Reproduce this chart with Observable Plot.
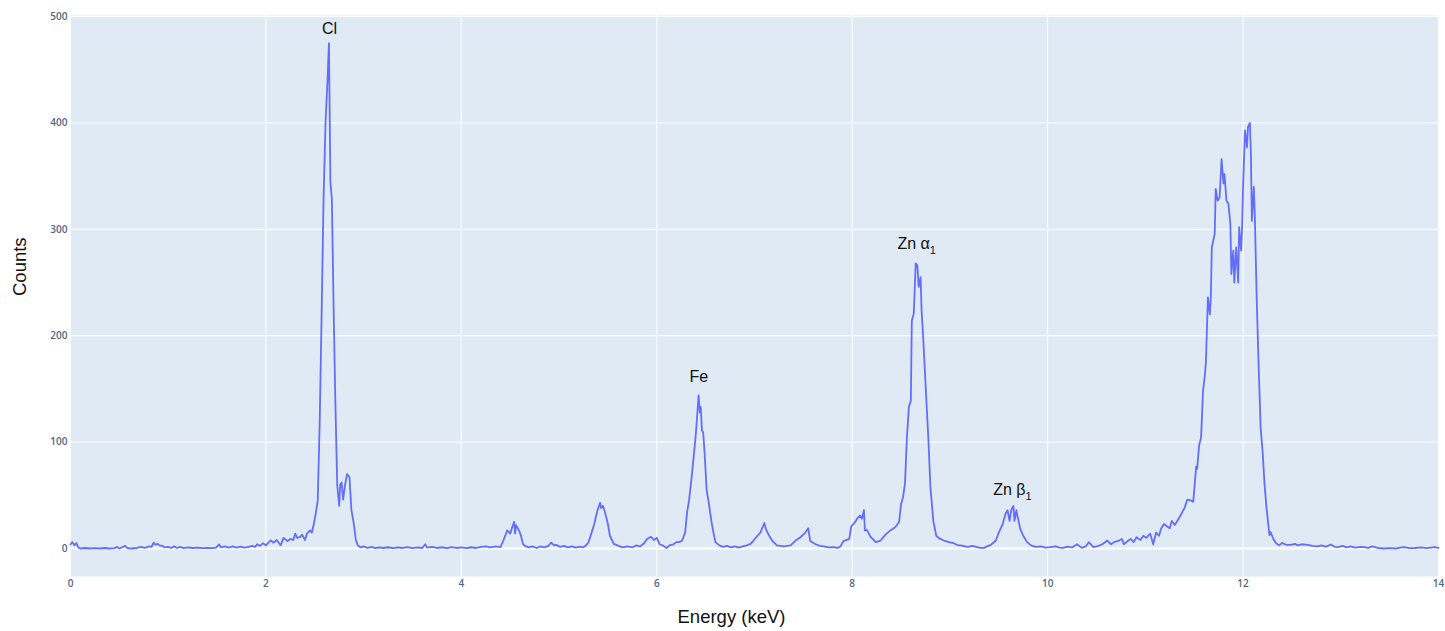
<!DOCTYPE html>
<html>
<head>
<meta charset="utf-8">
<script src="https://cdn.jsdelivr.net/npm/d3@7"></script>
<script src="https://cdn.jsdelivr.net/npm/@observablehq/plot@0.6"></script>
<style>
  html, body { margin: 0; padding: 0; background: #ffffff; }
  #chart svg { display: block; }
</style>
</head>
<body>
<div id="chart"></div>
<script>
// Energy (keV) and counts
const energy = [
  0.00,0.02,0.04,0.06,0.08,0.10,0.15,0.20,0.25,0.30,0.35,0.40,0.45,0.48,0.50,0.56,0.58,0.62,0.68,0.72,0.76,0.80,0.83,0.85,0.87,0.89,0.91,0.94,0.97,
  1.00,1.03,1.06,1.09,1.12,1.16,1.20,1.25,1.30,1.35,1.40,1.45,1.49,1.52,1.54,1.58,1.62,1.66,1.70,1.74,1.78,1.82,1.86,1.89,1.91,1.94,1.97,
  2.00,2.03,2.05,2.08,2.11,2.15,2.18,2.22,2.25,2.28,2.30,2.32,2.35,2.37,2.40,2.42,2.45,2.47,2.49,2.51,2.53,2.55,2.57,2.59,2.61,2.63,2.645,2.66,2.675,2.69,2.71,2.73,2.75,2.76,2.775,2.79,2.81,2.83,2.855,2.875,2.90,2.92,2.94,2.97,
  3.00,3.04,3.08,3.12,3.16,3.20,3.25,3.30,3.35,3.40,3.45,3.50,3.55,3.60,3.63,3.65,3.70,3.75,3.80,3.85,3.90,3.95,
  4.00,4.05,4.10,4.15,4.20,4.25,4.30,4.35,4.40,4.43,4.47,4.50,4.52,4.54,4.55,4.56,4.59,4.61,4.63,4.65,4.69,4.73,4.77,4.81,4.85,4.89,4.92,4.95,4.97,
  5.01,5.05,5.09,5.13,5.17,5.21,5.24,5.27,5.30,5.33,5.36,5.39,5.42,5.43,5.45,5.47,5.50,5.52,5.56,5.61,5.65,5.70,5.75,5.79,5.83,5.87,5.90,5.94,5.97,
  6.00,6.03,6.07,6.10,6.13,6.17,6.20,6.23,6.26,6.29,6.31,6.33,6.36,6.38,6.40,6.415,6.428,6.44,6.45,6.462,6.475,6.49,6.51,6.53,6.56,6.58,6.60,6.64,6.68,6.72,6.76,6.80,6.84,6.88,6.92,6.96,6.99,
  7.03,7.06,7.10,7.12,7.15,7.18,7.23,7.30,7.37,7.42,7.47,7.52,7.55,7.57,7.63,7.67,7.71,7.76,7.81,7.85,7.88,7.91,7.97,7.99,
  8.03,8.05,8.08,8.10,8.12,8.13,8.15,8.19,8.21,8.24,8.29,8.34,8.39,8.44,8.48,8.50,8.52,8.54,8.56,8.58,8.60,8.61,8.63,8.65,8.667,8.68,8.70,8.71,8.73,8.75,8.78,8.80,8.83,8.86,8.90,8.94,8.99,
  9.04,9.08,9.11,9.18,9.23,9.28,9.31,9.35,9.38,9.42,9.47,9.50,9.54,9.57,9.59,9.61,9.63,9.65,9.66,9.68,9.69,9.72,9.75,9.79,9.83,9.88,9.93,9.98,
  10.03,10.08,10.12,10.16,10.20,10.25,10.30,10.35,10.39,10.42,10.47,10.52,10.56,10.61,10.65,10.68,10.73,10.76,10.78,10.82,10.85,10.88,10.91,10.95,10.98,
  11.01,11.05,11.08,11.11,11.14,11.16,11.19,11.22,11.25,11.27,11.30,11.32,11.36,11.40,11.43,11.47,11.49,11.52,11.53,11.55,11.57,11.59,11.61,11.62,11.64,11.66,11.67,11.68,11.71,11.72,11.74,11.76,11.78,11.80,11.81,11.83,11.85,11.87,11.88,11.90,11.91,11.93,11.95,11.96,11.98,11.99,
  12.00,12.02,12.04,12.05,12.07,12.08,12.09,12.11,12.12,12.14,12.16,12.18,12.20,12.22,12.24,12.27,12.28,12.31,12.34,12.37,12.40,12.44,12.49,12.53,12.56,12.60,12.66,12.71,12.76,12.80,12.85,12.90,12.94,12.97,
  13.02,13.06,13.10,13.15,13.20,13.24,13.28,13.32,13.38,13.44,13.50,13.56,13.62,13.65,13.70,13.76,13.82,13.88,13.96,14.00
];
const counts = [
  4,6,3,5,1,0,0.5,0,0.3,0,0.5,0,0.3,1.5,0,2.5,0.5,0,0.5,1.5,0.5,2,1.5,5.5,3.5,4.5,3,2.5,1,
  1.5,0.5,2,0.5,1.5,0.3,1,0.5,0.8,0.3,0.6,0.3,0.8,3.8,1,2,0.8,2,0.8,1.8,0.8,1.5,2.5,1.5,4,2.5,5,
  3,6,7.5,5.5,8,3,10,7,9,8,14,10,11,13,8,14,17,15,23,33,45,117,220,330,400,440,475,344,328,240,140,59,40,60,62,46,60,70,67,36,23,8,3,1,
  2,0.5,1.5,0.3,1,0.5,1.2,0.3,1,0.5,1.3,0.4,1,0.5,4,0.8,1.5,0.5,1.2,0.4,1.4,0.5,
  1,0.3,1.2,0.5,1.5,2,1,2,1.3,7.5,17,14,20,25,14,22,17,12,4.4,2.5,1,2,0.5,2,1,2.5,5.6,3,3.4,
  1.5,2.5,1,2,0.8,1.8,1,2.5,5.6,14,23,35,43,38,40,34,23,12,4.4,2.5,1,2,1,3,2,5,9,11,8,
  10,4,2.5,0.5,3,4,6,6,7.5,15,34,45,70,89,108,127,144,128,133,111,109,89,55,44,25,15,6,3,1.5,2.5,1,2,0.8,2,3,4.4,7.5,
  12,15,24,17.5,12,7.5,3,2,3,7.5,10.6,15,19,7,3.8,2.5,2,1,1.3,0.5,2,7,9,20.7,
  25,28,31,28,36,17,17.5,10.6,9,6,7.5,13,17,20,25,42,48,61,105,133,139,214,221,268,266,246,255,224,192,155,102,58,26,12,9,7.5,6,
  5,3,3,1.5,2.5,1.3,0.6,0.6,2,3.5,7.5,15,23,33,36,26,37,40,26,36,31,18.5,12,6,3,1.5,2,0.8,
  1.3,2,0.8,0.6,1.8,1,4,0.6,2,6,1.3,2.5,4,7.5,4,6,7.5,9,4,7,9,6,10.6,8,12,
  10,14,4,15,12,18.5,23,21,19,26,22,25,31,38,46,45,44,77,75,97,104,148,164,176,236,220,236,283,296,338,327,330,366,343,352,327,324,305,258,280,250,283,250,302,280,302,
  340,393,377,396,400,371,308,340,314,233,170,113,91,60,38,12.6,15.7,9,4.7,3,5.3,3.5,3.4,4.4,3,4,3.4,2.5,2,3,1.8,3.8,1.5,1.3,
  2.5,1,2,0.8,1.5,1.3,0.5,2,0.5,0,0.3,0,1,1.3,0.3,0.5,1,0.3,1.3,0.5
];

// Peak annotations (subscript given separately)
const peakLabels = ["Cl", "Fe", "Zn α", "Zn β"];
const peakSubs = ["", "", "1", "1"];
const peakX = [2.65, 6.43, 8.66, 9.64];
const peakY = [488, 161, 286, 55];

// Axis ticks
const xTicks = [0, 2, 4, 6, 8, 10, 12, 14];
const yTicks = [0, 100, 200, 300, 400, 500];

const spectrum = energy.map((e, i) => ({energy: e, counts: counts[i]}));
const annotations = peakLabels.map((t, i) => ({label: t, sub: peakSubs[i], x: peakX[i], y: peakY[i]}));

const tickStyle = {fontFamily: "'Open Sans', sans-serif", fontSize: 10, fontWeight: 600, fill: "#506784"};

const chart = Plot.plot({
  width: 1445,
  height: 631,
  marginLeft: 70,
  marginRight: 7,
  marginTop: 15,
  marginBottom: 55,
  style: {background: "#ffffff", fontFamily: "'Liberation Sans', Arial, sans-serif"},
  x: {domain: [0, 14], ticks: xTicks, label: null},
  y: {domain: [-26.3, 501], ticks: yTicks, label: null},
  marks: [
    Plot.frame({fill: "#dfeaf5", stroke: "none"}),
    Plot.gridX(xTicks, {stroke: "#ffffff", strokeOpacity: 1, strokeWidth: 1}),
    Plot.gridY(yTicks, {stroke: "#ffffff", strokeOpacity: 1, strokeWidth: 1}),
    Plot.ruleY([0], {stroke: "#ffffff", strokeWidth: 2}),
    Plot.axisX(xTicks, {tickSize: 0, tickPadding: 3, label: null, ...tickStyle}),
    Plot.axisY(yTicks, {tickSize: 0, tickPadding: 3, label: null, ...tickStyle}),
    Plot.line(spectrum, {x: "energy", y: "counts", stroke: "#636efa", strokeWidth: 1.8, strokeLinejoin: "round"}),
    Plot.text(annotations, {x: "x", y: "y", text: (d) => d.label + (d.sub ? "\u200B" + d.sub : ""), fontSize: 16, fill: "#111111", fontFamily: "'Liberation Sans', Arial, sans-serif", className: "peak-label"}),
    Plot.text(["Energy (keV)"], {frameAnchor: "bottom", dx: -23, dy: 46, fontSize: 18.5, fill: "#111111"}),
    Plot.text(["Counts"], {frameAnchor: "left", dx: -50, dy: 0, rotate: -90, fontSize: 18.5, fill: "#111111"})
  ]
});

// Render subscripts as real tspans
chart.querySelectorAll(".peak-label text").forEach((t) => {
  const s = t.textContent;
  const k = s.indexOf("\u200B");
  if (k >= 0) {
    const main = s.slice(0, k), sub = s.slice(k + 1);
    t.textContent = "";
    t.appendChild(document.createTextNode(main));
    const ts = document.createElementNS("http://www.w3.org/2000/svg", "tspan");
    ts.setAttribute("dy", "5");
    ts.setAttribute("font-size", "11");
    ts.textContent = sub;
    t.appendChild(ts);
  }
});
document.getElementById("chart").appendChild(chart);
</script>
</body>
</html>
